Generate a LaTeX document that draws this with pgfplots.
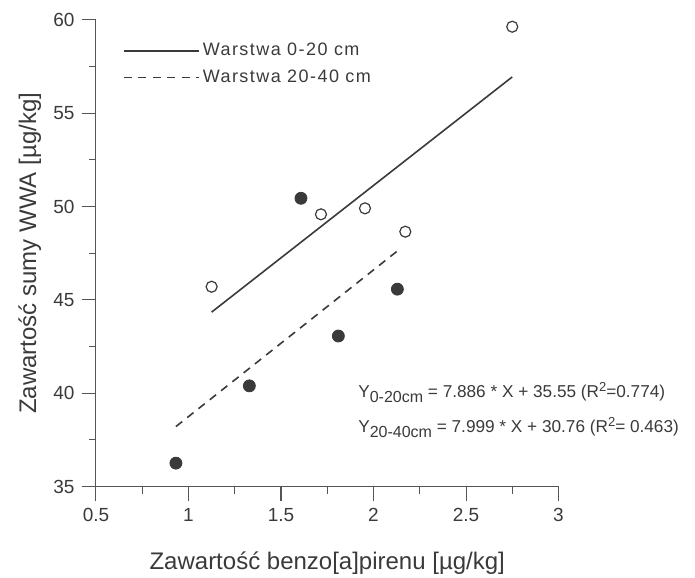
\documentclass[border=0pt]{standalone}
\usepackage{fontspec}
\setmainfont{Liberation Sans}
\newfontfamily\spaced[LetterSpace=8]{Liberation Sans}
\usepackage{pgfplots}
\pgfplotsset{compat=1.18}
\definecolor{ink}{HTML}{3A3A3A}
\definecolor{axisgray}{HTML}{555555}

% fitted lines, end points
\pgfplotstableread{
x y
1.125 44.35
2.75 56.95
}\fitA
\pgfplotstableread{
x y
0.932 38.22
2.131 47.64
}\fitB

\begin{document}
\begin{tikzpicture}
\useasboundingbox (-48pt,-45.65pt) rectangle (299.5pt,243.33pt);
\begin{axis}[
    scale only axis,
    width=231.25pt, height=233.33pt,
    xmin=0.5, xmax=3, ymin=35, ymax=60,
    axis x line*=bottom, axis y line*=left,
    axis line style={-, axisgray, line width=0.5pt},
    xtick={0.5,1,...,3}, ytick={35,40,...,60},
    minor tick num=1,
    tick align=outside,
    major tick length=7.25pt, minor tick length=3.5pt,
    tick style={axisgray, line width=0.5pt},
    xticklabels={0.5,1,1.5,2,2.5,3},
    yticklabels={35,40,45,50,55,60},
    ticklabel style={font=\fontsize{9.5}{11}\selectfont, text=ink},
    xlabel={Zawartość benzo[a]pirenu [µg/kg]},
    ylabel={Zawartość sumy WWA [µg/kg]},
    label style={font=\fontsize{12}{14}\selectfont, text=ink},
    xlabel style={at={(axis description cs:0.5,-0.178)}, anchor=base},
    ylabel style={at={(axis description cs:-0.143,0.5)}, anchor=center},
    legend style={at={(rel axis cs:0.058,0.958)}, anchor=north west, draw=none, fill=none,
        font=\spaced\fontsize{9}{11}\selectfont, text=ink, inner sep=0pt, row sep=2.5pt,
        nodes={inner sep=1.5pt}},
    legend cell align=left,
    legend image code/.code={\draw[#1] (0pt,0pt) -- (37.5pt,0pt);},
    clip=false,
]
\addplot[ink, line width=0.8pt] table {\fitA};
\addlegendentry{Warstwa 0-20 cm}
\addplot[ink, line width=0.8pt, dash pattern=on 4pt off 3.2pt] table {\fitB};
\addlegendentry{Warstwa 20-40 cm}

% 0-20 cm (open circles)
\addplot[only marks, mark=o, mark size=2.75pt, ink, mark options={line width=0.6pt}, forget plot]
coordinates {(1.125,45.71) (1.716,49.59) (1.954,49.91) (2.172,48.66) (2.750,59.64)};
% 20-40 cm (filled circles)
\addplot[only marks, mark=*, mark size=3pt, ink, forget plot]
coordinates {(0.932,36.26) (1.329,40.40) (1.608,50.45) (1.810,43.07) (2.129,45.58)};

\node[anchor=base west, inner sep=0pt, text=ink, font=\fontsize{8.6}{10}\selectfont]
  at (axis cs:1.916,39.75) {Y\raisebox{-2.5pt}{\fontsize{8}{9}\selectfont 0-20cm} = 7.886 * X + 35.55 (R\raisebox{3pt}{\fontsize{6.5}{8}\selectfont 2}=0.774)};
\node[anchor=base west, inner sep=0pt, text=ink, font=\fontsize{8.6}{10}\selectfont]
  at (axis cs:1.916,37.88) {Y\raisebox{-2.5pt}{\fontsize{8}{9}\selectfont 20-40cm} = 7.999 * X + 30.76 (R\raisebox{3pt}{\fontsize{6.5}{8}\selectfont 2}= 0.463)};
\end{axis}
\end{tikzpicture}
\end{document}
